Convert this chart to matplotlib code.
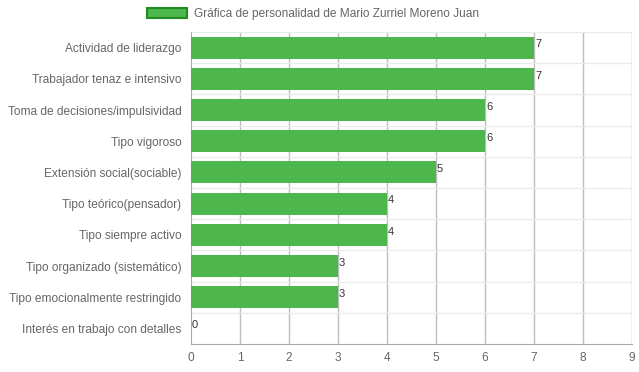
import numpy as np
import matplotlib.pyplot as plt
from matplotlib.patches import Patch

plt.rcParams['font.family'] = ['Liberation Sans', 'DejaVu Sans']

# Data
categories = ['Actividad de liderazgo', 'Trabajador tenaz e intensivo',
              'Toma de decisiones/impulsividad', 'Tipo vigoroso',
              'Extensión social(sociable)', 'Tipo teórico(pensador)',
              'Tipo siempre activo', 'Tipo organizado (sistemático)',
              'Tipo emocionalmente restringido',
              'Interés en trabajo con detalles']
values = [7, 7, 6, 6, 5, 4, 4, 3, 3, 0]
series_name = 'Gráfica de personalidad de Mario Zurriel Moreno Juan'

fig = plt.figure(figsize=(6.39, 3.72), dpi=100)
ax = fig.add_axes([191 / 639, 28 / 372, 441 / 639, 312 / 372])

y = np.arange(len(categories))
ax.barh(y, values, height=0.71, color='#4db64d', edgecolor='none', zorder=3)

for yi, v in zip(y, values):
    ax.text(v + 0.02, yi - 0.1, str(v), fontsize=8, color='#333333',
            va='center', ha='left', zorder=4)

ax.set_xlim(0, 9)
ax.set_ylim(len(categories) - 0.5, -0.5)
ax.set_xticks(range(10))
ax.set_yticks(y)
ax.set_yticklabels(categories)

# grid: vertical darker, horizontal light at row boundaries
for xv in range(1, 10):
    ax.axvline(xv, color='#bdbdbd', lw=1, zorder=1)
for yb in np.arange(-0.5, len(categories) - 0.5, 1):
    ax.axhline(yb, color='#ebebeb', lw=1, zorder=1)

for s in ['top', 'right']:
    ax.spines[s].set_visible(False)
for s in ['left', 'bottom']:
    ax.spines[s].set_color('#aaaaaa')
ax.tick_params(axis='both', colors='#666666', labelsize=8.6, length=0)
ax.tick_params(axis='y', pad=7)
ax.tick_params(axis='x', pad=6)

handles = [Patch(facecolor='#4db64d', edgecolor='#1e8c1e', linewidth=1.5)]
fig.legend(handles, [series_name], loc='upper center',
           bbox_to_anchor=(0.49, 1.008), frameon=False, fontsize=8.6,
           labelcolor='#666666', handlelength=3.4, handleheight=0.9,
           handletextpad=0.6)

fig.savefig('out.png', dpi=100)
